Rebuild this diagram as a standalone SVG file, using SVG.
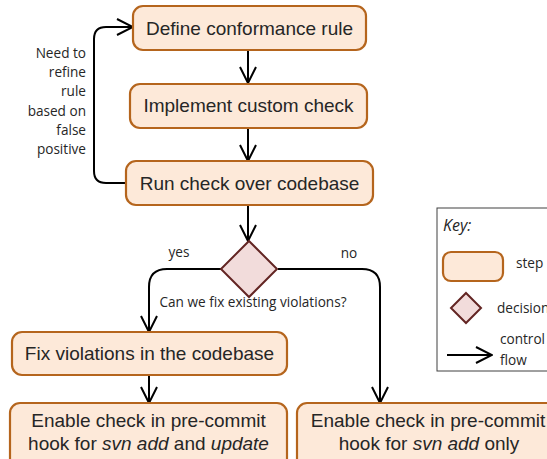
<svg xmlns="http://www.w3.org/2000/svg" width="547" height="459" viewBox="0 0 547 459">
<defs>
<style>
.step{fill:#fde9d9;stroke:#b5651d;stroke-width:2.2}
.dec{fill:#f2dcdb;stroke:#632523;stroke-width:2}
.t{font-family:"Liberation Sans",Arial,sans-serif;font-size:19px;fill:#262626;text-anchor:middle}
.s{font-family:"Open Sans","DejaVu Sans",sans-serif;font-size:13.6px;fill:#262626}
.k{font-style:italic;font-size:16px}
.c{fill:none;stroke:#000;stroke-width:2}
</style>
<marker id="ah" viewBox="0 0 18 18" refX="17" refY="9" markerWidth="18" markerHeight="18" markerUnits="userSpaceOnUse" orient="auto">
<path d="M1,1 L17,9 L1,17" fill="none" stroke="#000" stroke-width="2"/>
</marker>
</defs>
<rect width="547" height="459" fill="#fff"/>
<g id="connectors">
<path class="c" d="M248,50 V83" marker-end="url(#ah)"/>
<path class="c" d="M248,128 V161" marker-end="url(#ah)"/>
<path class="c" d="M248,205 V241" marker-end="url(#ah)"/>
<path class="c" d="M126,183 H106 Q94,183 94,171 V39 Q94,27 106,27 H133" marker-end="url(#ah)"/>
<path class="c" d="M221,269 H167 Q149,269 149,287 V332" marker-end="url(#ah)"/>
<path class="c" d="M278,269 H362 Q380,269 380,287 V403" marker-end="url(#ah)"/>
<path class="c" d="M149,375 V403" marker-end="url(#ah)"/>
</g>
<g id="label-loop" class="s" text-anchor="end">
<text x="86" y="58">Need to</text>
<text x="86" y="77">refine</text>
<text x="86" y="96">rule</text>
<text x="86" y="116">based on</text>
<text x="86" y="135">false</text>
<text x="86" y="154">positive</text>
</g>
<g id="label-yes"><text class="s" x="179" y="257" text-anchor="middle">yes</text></g>
<g id="label-no"><text class="s" x="349" y="258" text-anchor="middle">no</text></g>
<g id="n1"><rect class="step" x="133" y="6" width="233" height="44" rx="10"/><text class="t" x="249.5" y="35">Define conformance rule</text></g>
<g id="n2"><rect class="step" x="130" y="84" width="237" height="44" rx="10"/><text class="t" x="248.5" y="112">Implement custom check</text></g>
<g id="n3"><rect class="step" x="126" y="161" width="247" height="44" rx="10"/><text class="t" x="249.5" y="190">Run check over codebase</text></g>
<g id="d1"><path class="dec" d="M249,241 L277,269 L249,297 L221,269 Z"/><text class="s" x="253" y="307" text-anchor="middle">Can we fix existing violations?</text></g>
<g id="n4"><rect class="step" x="12" y="332" width="275" height="43" rx="10"/><text class="t" x="149.5" y="360">Fix violations in the codebase</text></g>
<g id="n5"><rect class="step" x="10" y="403" width="277" height="66" rx="10"/><text class="t" x="148.5" y="427">Enable check in pre-commit</text><text class="t" x="148.5" y="450">hook for <tspan font-style="italic">svn add</tspan> and <tspan font-style="italic">update</tspan></text></g>
<g id="n6"><rect class="step" x="297" y="403" width="266" height="66" rx="10"/><text class="t" x="428" y="427">Enable check in pre-commit</text><text class="t" x="429" y="450">hook for <tspan font-style="italic">svn add</tspan> only</text></g>
<g id="key">
<rect x="437" y="208" width="120" height="163" fill="#fff" stroke="#404040" stroke-width="1"/>
<text class="s k" x="443" y="231">Key:</text>
<rect class="step" x="443" y="252" width="60" height="29" rx="8"/>
<text class="s" x="516" y="268">step</text>
<path class="dec" d="M466,293 L481,308 L466,323 L451,308 Z"/>
<text class="s" x="497" y="313">decision</text>
<path class="c" d="M447,355 H492" marker-end="url(#ah)"/>
<text class="s" x="500" y="344">control</text>
<text class="s" x="500" y="365">flow</text>
</g>
</svg>
